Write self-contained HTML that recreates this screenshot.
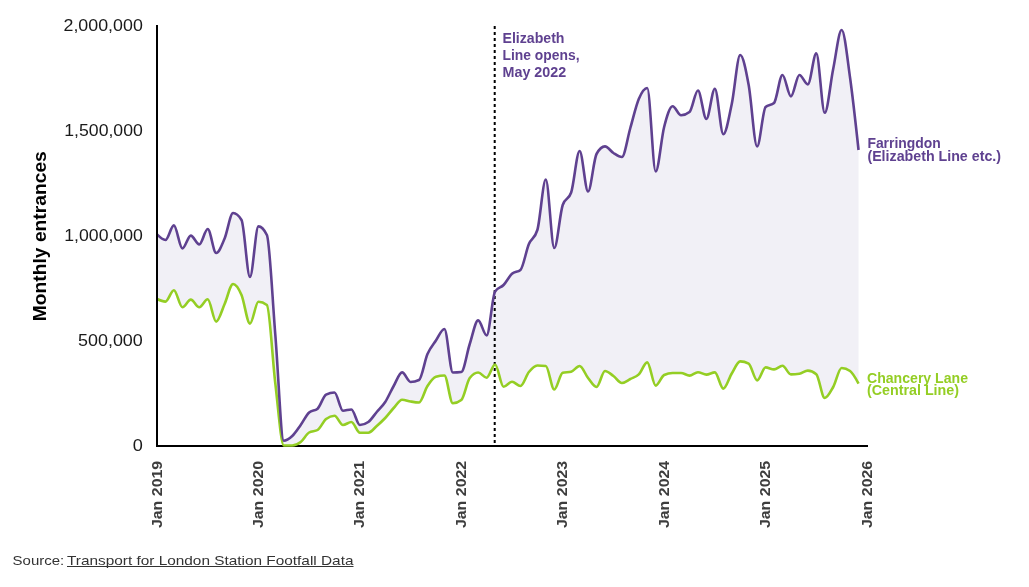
<!DOCTYPE html>
<html><head><meta charset="utf-8"><title>Monthly entrances</title>
<style>
html,body{margin:0;padding:0;background:#fff;}
body{width:1029px;height:587px;overflow:hidden;font-family:"Liberation Sans",sans-serif;}
svg{display:block;will-change:transform;transform:translateZ(0);font-family:"Liberation Sans",sans-serif;}
.yt{font-size:15.8px;fill:#1a1a1a;}
.xt{font-size:15.1px;font-weight:bold;fill:#3d3d3d;}
.ann{font-size:14px;font-weight:bold;fill:#5f4190;}
.lg{font-size:14px;font-weight:bold;fill:#94ce24;}
.ytitle{font-size:18px;font-weight:bold;fill:#000;}
.src{font-size:13.5px;fill:#333;}
</style></head><body>
<svg width="1029" height="587" viewBox="0 0 1029 587">
<path d="M157,234.4C159.82,237.2,162.63,240,165.45,240C168.27,240,171.09,225.4,173.9,225.4C176.72,225.4,179.54,248.4,182.36,248.4C185.17,248.4,187.99,235.6,190.81,235.6C193.63,235.6,196.44,244.4,199.26,244.4C202.08,244.4,204.9,229,207.71,229C210.53,229,213.35,253,216.17,253C218.98,253,221.8,245.17,224.62,238.5C227.44,231.83,230.25,213,233.07,213C235.89,213,238.71,215.33,241.52,220C244.34,224.67,247.16,277,249.98,277C252.79,277,255.61,226.4,258.43,226.4C261.25,226.4,264.06,229.27,266.88,235C269.7,240.73,272.52,300.72,275.33,335C278.15,369.28,280.97,440.7,283.79,440.7C286.6,440.7,289.42,438.62,292.24,436C295.06,433.38,297.87,428.92,300.69,425C303.51,421.08,306.33,415.03,309.14,412.5C311.96,409.97,314.78,411.23,317.6,408.7C320.41,406.17,323.23,396.17,326.05,394.7C328.87,393.23,331.68,392.5,334.5,392.5C337.32,392.5,340.13,410.7,342.95,410.7C345.77,410.7,348.59,409.5,351.4,409.5C354.22,409.5,357.04,425,359.86,425C362.67,425,365.49,424,368.31,422C371.13,420,373.94,415.33,376.76,412C379.58,408.67,382.4,406.33,385.21,402C388.03,397.67,390.85,390.93,393.67,386C396.48,381.07,399.3,372.4,402.12,372.4C404.94,372.4,407.75,382,410.57,382C413.39,382,416.21,381.33,419.02,380C421.84,378.67,424.66,360.58,427.48,354C430.29,347.42,433.11,344.67,435.93,340.5C438.75,336.33,441.56,329,444.38,329C447.2,329,450.02,372.5,452.83,372.5C455.65,372.5,458.47,372.33,461.29,372C464.1,371.67,466.92,352.6,469.74,344C472.56,335.4,475.37,320.4,478.19,320.4C481.01,320.4,483.83,335.4,486.64,335.4C489.46,335.4,492.28,295.83,495.1,291.5C497.91,287.17,500.73,287.97,503.55,285C506.37,282.03,509.18,276.17,512,273.7C514.82,271.23,517.63,272.47,520.45,270C523.27,267.53,526.09,250.67,528.9,244C531.72,237.33,534.54,239.33,537.36,230C540.17,220.67,542.99,179.5,545.81,179.5C548.63,179.5,551.44,248,554.26,248C557.08,248,559.9,213.33,562.71,205C565.53,196.67,568.35,200.83,571.17,192.5C573.98,184.17,576.8,151,579.62,151C582.44,151,585.25,191.5,588.07,191.5C590.89,191.5,593.71,159.07,596.52,154C599.34,148.93,602.16,146.4,604.98,146.4C607.79,146.4,610.61,151.23,613.43,153C616.25,154.77,619.06,157,621.88,157C624.7,157,627.52,137.67,630.33,128C633.15,118.33,635.97,105.67,638.79,99C641.6,92.33,644.42,88,647.24,88C650.06,88,652.87,171.5,655.69,171.5C658.51,171.5,661.33,137.87,664.14,127C666.96,116.13,669.78,106.3,672.6,106.3C675.41,106.3,678.23,115.3,681.05,115.3C683.87,115.3,686.68,114.2,689.5,112C692.32,109.8,695.13,90.5,697.95,90.5C700.77,90.5,703.59,119,706.4,119C709.22,119,712.04,88.7,714.86,88.7C717.67,88.7,720.49,134.2,723.31,134.2C726.13,134.2,728.94,117.2,731.76,104C734.58,90.8,737.4,55,740.21,55C743.03,55,745.85,69.75,748.67,85C751.48,100.25,754.3,146.5,757.12,146.5C759.94,146.5,762.75,109.67,765.57,107C768.39,104.33,771.21,105.67,774.02,103C776.84,100.33,779.66,75,782.48,75C785.29,75,788.11,96.4,790.93,96.4C793.75,96.4,796.56,75,799.38,75C802.2,75,805.02,84.4,807.83,84.4C810.65,84.4,813.47,53.4,816.29,53.4C819.1,53.4,821.92,112.8,824.74,112.8C827.56,112.8,830.37,82.8,833.19,69C836.01,55.2,838.83,30,841.64,30C844.46,30,847.28,58,850.1,78C852.91,98,855.73,124,858.55,150L858.55,383.6C855.73,378.3,852.91,373,850.1,371C847.28,369,844.46,368,841.64,368C838.83,368,836.01,382,833.19,387C830.37,392,827.56,398,824.74,398C821.92,398,819.1,376.6,816.29,374.2C813.47,371.8,810.65,370.6,807.83,370.6C805.02,370.6,802.2,373.4,799.38,373.8C796.56,374.2,793.75,374.4,790.93,374.4C788.11,374.4,785.29,365.8,782.48,365.8C779.66,365.8,776.84,369.4,774.02,369.4C771.21,369.4,768.39,367.4,765.57,367.4C762.75,367.4,759.94,380.4,757.12,380.4C754.3,380.4,751.48,365.07,748.67,363.6C745.85,362.13,743.03,361.4,740.21,361.4C737.4,361.4,734.58,368.97,731.76,373.5C728.94,378.03,726.13,388.6,723.31,388.6C720.49,388.6,717.67,372.4,714.86,372.4C712.04,372.4,709.22,374.6,706.4,374.6C703.59,374.6,700.77,372.2,697.95,372.2C695.13,372.2,692.32,375.6,689.5,375.6C686.68,375.6,683.87,373,681.05,373C678.23,373,675.41,373,672.6,373C669.78,373,666.96,373.67,664.14,375C661.33,376.33,658.51,385.6,655.69,385.6C652.87,385.6,650.06,362.4,647.24,362.4C644.42,362.4,641.6,371.63,638.79,374.4C635.97,377.17,633.15,377.57,630.33,379C627.52,380.43,624.7,383,621.88,383C619.06,383,616.25,378,613.43,376C610.61,374,607.79,371,604.98,371C602.16,371,599.34,387,596.52,387C593.71,387,590.89,381.5,588.07,378C585.25,374.5,582.44,366,579.62,366C576.8,366,573.98,371.03,571.17,371.7C568.35,372.37,565.53,372.03,562.71,372.7C559.9,373.37,557.08,389.5,554.26,389.5C551.44,389.5,548.63,366.33,545.81,366C542.99,365.67,540.17,365.5,537.36,365.5C534.54,365.5,531.72,368.58,528.9,372C526.09,375.42,523.27,386,520.45,386C517.63,386,514.82,381.7,512,381.7C509.18,381.7,506.37,386.7,503.55,386.7C500.73,386.7,497.91,364.5,495.1,364.5C492.28,364.5,489.46,377.7,486.64,377.7C483.83,377.7,481.01,372.5,478.19,372.5C475.37,372.5,472.56,374.33,469.74,378C466.92,381.67,464.1,397.8,461.29,400C458.47,402.2,455.65,403.3,452.83,403.3C450.02,403.3,447.2,375.5,444.38,375.5C441.56,375.5,438.75,375.93,435.93,376.8C433.11,377.67,430.29,381.72,427.48,386C424.66,390.28,421.84,402.5,419.02,402.5C416.21,402.5,413.39,401.97,410.57,401.5C407.75,401.03,404.94,399.7,402.12,399.7C399.3,399.7,396.48,404.95,393.67,408C390.85,411.05,388.03,415,385.21,418C382.4,421,379.58,423.55,376.76,426C373.94,428.45,371.13,432.7,368.31,432.7C365.49,432.7,362.67,432.7,359.86,432.7C357.04,432.7,354.22,422,351.4,422C348.59,422,345.77,425,342.95,425C340.13,425,337.32,415.7,334.5,415.7C331.68,415.7,328.87,416.8,326.05,419C323.23,421.2,320.41,428.33,317.6,430C314.78,431.67,311.96,430.83,309.14,432.5C306.33,434.17,303.51,439.83,300.69,442C297.87,444.17,295.06,445.5,292.24,445.5C289.42,445.5,286.6,445.5,283.79,445.5C280.97,445.5,278.15,406.92,275.33,383.5C272.52,360.08,269.7,307.13,266.88,305C264.06,302.87,261.25,301.8,258.43,301.8C255.61,301.8,252.79,323.6,249.98,323.6C247.16,323.6,244.34,301.6,241.52,295C238.71,288.4,235.89,284,233.07,284C230.25,284,227.44,297.73,224.62,304C221.8,310.27,218.98,321.6,216.17,321.6C213.35,321.6,210.53,299.3,207.71,299.3C204.9,299.3,202.08,307.2,199.26,307.2C196.44,307.2,193.63,299.6,190.81,299.6C187.99,299.6,185.17,307.2,182.36,307.2C179.54,307.2,176.72,290.2,173.9,290.2C171.09,290.2,168.27,301.6,165.45,301.6C162.63,301.6,159.82,300.3,157,299Z" fill="#f1f0f6"/>
<line x1="156" y1="446" x2="868" y2="446" stroke="#000" stroke-width="2"/>
<line x1="494.7" y1="26.1" x2="494.7" y2="444" stroke="#000" stroke-width="2" stroke-dasharray="3 3"/>
<path d="M157,299C159.82,300.3,162.63,301.6,165.45,301.6C168.27,301.6,171.09,290.2,173.9,290.2C176.72,290.2,179.54,307.2,182.36,307.2C185.17,307.2,187.99,299.6,190.81,299.6C193.63,299.6,196.44,307.2,199.26,307.2C202.08,307.2,204.9,299.3,207.71,299.3C210.53,299.3,213.35,321.6,216.17,321.6C218.98,321.6,221.8,310.27,224.62,304C227.44,297.73,230.25,284,233.07,284C235.89,284,238.71,288.4,241.52,295C244.34,301.6,247.16,323.6,249.98,323.6C252.79,323.6,255.61,301.8,258.43,301.8C261.25,301.8,264.06,302.87,266.88,305C269.7,307.13,272.52,360.08,275.33,383.5C278.15,406.92,280.97,445.5,283.79,445.5C286.6,445.5,289.42,445.5,292.24,445.5C295.06,445.5,297.87,444.17,300.69,442C303.51,439.83,306.33,434.17,309.14,432.5C311.96,430.83,314.78,431.67,317.6,430C320.41,428.33,323.23,421.2,326.05,419C328.87,416.8,331.68,415.7,334.5,415.7C337.32,415.7,340.13,425,342.95,425C345.77,425,348.59,422,351.4,422C354.22,422,357.04,432.7,359.86,432.7C362.67,432.7,365.49,432.7,368.31,432.7C371.13,432.7,373.94,428.45,376.76,426C379.58,423.55,382.4,421,385.21,418C388.03,415,390.85,411.05,393.67,408C396.48,404.95,399.3,399.7,402.12,399.7C404.94,399.7,407.75,401.03,410.57,401.5C413.39,401.97,416.21,402.5,419.02,402.5C421.84,402.5,424.66,390.28,427.48,386C430.29,381.72,433.11,377.67,435.93,376.8C438.75,375.93,441.56,375.5,444.38,375.5C447.2,375.5,450.02,403.3,452.83,403.3C455.65,403.3,458.47,402.2,461.29,400C464.1,397.8,466.92,381.67,469.74,378C472.56,374.33,475.37,372.5,478.19,372.5C481.01,372.5,483.83,377.7,486.64,377.7C489.46,377.7,492.28,364.5,495.1,364.5C497.91,364.5,500.73,386.7,503.55,386.7C506.37,386.7,509.18,381.7,512,381.7C514.82,381.7,517.63,386,520.45,386C523.27,386,526.09,375.42,528.9,372C531.72,368.58,534.54,365.5,537.36,365.5C540.17,365.5,542.99,365.67,545.81,366C548.63,366.33,551.44,389.5,554.26,389.5C557.08,389.5,559.9,373.37,562.71,372.7C565.53,372.03,568.35,372.37,571.17,371.7C573.98,371.03,576.8,366,579.62,366C582.44,366,585.25,374.5,588.07,378C590.89,381.5,593.71,387,596.52,387C599.34,387,602.16,371,604.98,371C607.79,371,610.61,374,613.43,376C616.25,378,619.06,383,621.88,383C624.7,383,627.52,380.43,630.33,379C633.15,377.57,635.97,377.17,638.79,374.4C641.6,371.63,644.42,362.4,647.24,362.4C650.06,362.4,652.87,385.6,655.69,385.6C658.51,385.6,661.33,376.33,664.14,375C666.96,373.67,669.78,373,672.6,373C675.41,373,678.23,373,681.05,373C683.87,373,686.68,375.6,689.5,375.6C692.32,375.6,695.13,372.2,697.95,372.2C700.77,372.2,703.59,374.6,706.4,374.6C709.22,374.6,712.04,372.4,714.86,372.4C717.67,372.4,720.49,388.6,723.31,388.6C726.13,388.6,728.94,378.03,731.76,373.5C734.58,368.97,737.4,361.4,740.21,361.4C743.03,361.4,745.85,362.13,748.67,363.6C751.48,365.07,754.3,380.4,757.12,380.4C759.94,380.4,762.75,367.4,765.57,367.4C768.39,367.4,771.21,369.4,774.02,369.4C776.84,369.4,779.66,365.8,782.48,365.8C785.29,365.8,788.11,374.4,790.93,374.4C793.75,374.4,796.56,374.2,799.38,373.8C802.2,373.4,805.02,370.6,807.83,370.6C810.65,370.6,813.47,371.8,816.29,374.2C819.1,376.6,821.92,398,824.74,398C827.56,398,830.37,392,833.19,387C836.01,382,838.83,368,841.64,368C844.46,368,847.28,369,850.1,371C852.91,373,855.73,378.3,858.55,383.6" fill="none" stroke="#94ce24" stroke-width="2.6" stroke-linejoin="round"/>
<path d="M157,234.4C159.82,237.2,162.63,240,165.45,240C168.27,240,171.09,225.4,173.9,225.4C176.72,225.4,179.54,248.4,182.36,248.4C185.17,248.4,187.99,235.6,190.81,235.6C193.63,235.6,196.44,244.4,199.26,244.4C202.08,244.4,204.9,229,207.71,229C210.53,229,213.35,253,216.17,253C218.98,253,221.8,245.17,224.62,238.5C227.44,231.83,230.25,213,233.07,213C235.89,213,238.71,215.33,241.52,220C244.34,224.67,247.16,277,249.98,277C252.79,277,255.61,226.4,258.43,226.4C261.25,226.4,264.06,229.27,266.88,235C269.7,240.73,272.52,300.72,275.33,335C278.15,369.28,280.97,440.7,283.79,440.7C286.6,440.7,289.42,438.62,292.24,436C295.06,433.38,297.87,428.92,300.69,425C303.51,421.08,306.33,415.03,309.14,412.5C311.96,409.97,314.78,411.23,317.6,408.7C320.41,406.17,323.23,396.17,326.05,394.7C328.87,393.23,331.68,392.5,334.5,392.5C337.32,392.5,340.13,410.7,342.95,410.7C345.77,410.7,348.59,409.5,351.4,409.5C354.22,409.5,357.04,425,359.86,425C362.67,425,365.49,424,368.31,422C371.13,420,373.94,415.33,376.76,412C379.58,408.67,382.4,406.33,385.21,402C388.03,397.67,390.85,390.93,393.67,386C396.48,381.07,399.3,372.4,402.12,372.4C404.94,372.4,407.75,382,410.57,382C413.39,382,416.21,381.33,419.02,380C421.84,378.67,424.66,360.58,427.48,354C430.29,347.42,433.11,344.67,435.93,340.5C438.75,336.33,441.56,329,444.38,329C447.2,329,450.02,372.5,452.83,372.5C455.65,372.5,458.47,372.33,461.29,372C464.1,371.67,466.92,352.6,469.74,344C472.56,335.4,475.37,320.4,478.19,320.4C481.01,320.4,483.83,335.4,486.64,335.4C489.46,335.4,492.28,295.83,495.1,291.5C497.91,287.17,500.73,287.97,503.55,285C506.37,282.03,509.18,276.17,512,273.7C514.82,271.23,517.63,272.47,520.45,270C523.27,267.53,526.09,250.67,528.9,244C531.72,237.33,534.54,239.33,537.36,230C540.17,220.67,542.99,179.5,545.81,179.5C548.63,179.5,551.44,248,554.26,248C557.08,248,559.9,213.33,562.71,205C565.53,196.67,568.35,200.83,571.17,192.5C573.98,184.17,576.8,151,579.62,151C582.44,151,585.25,191.5,588.07,191.5C590.89,191.5,593.71,159.07,596.52,154C599.34,148.93,602.16,146.4,604.98,146.4C607.79,146.4,610.61,151.23,613.43,153C616.25,154.77,619.06,157,621.88,157C624.7,157,627.52,137.67,630.33,128C633.15,118.33,635.97,105.67,638.79,99C641.6,92.33,644.42,88,647.24,88C650.06,88,652.87,171.5,655.69,171.5C658.51,171.5,661.33,137.87,664.14,127C666.96,116.13,669.78,106.3,672.6,106.3C675.41,106.3,678.23,115.3,681.05,115.3C683.87,115.3,686.68,114.2,689.5,112C692.32,109.8,695.13,90.5,697.95,90.5C700.77,90.5,703.59,119,706.4,119C709.22,119,712.04,88.7,714.86,88.7C717.67,88.7,720.49,134.2,723.31,134.2C726.13,134.2,728.94,117.2,731.76,104C734.58,90.8,737.4,55,740.21,55C743.03,55,745.85,69.75,748.67,85C751.48,100.25,754.3,146.5,757.12,146.5C759.94,146.5,762.75,109.67,765.57,107C768.39,104.33,771.21,105.67,774.02,103C776.84,100.33,779.66,75,782.48,75C785.29,75,788.11,96.4,790.93,96.4C793.75,96.4,796.56,75,799.38,75C802.2,75,805.02,84.4,807.83,84.4C810.65,84.4,813.47,53.4,816.29,53.4C819.1,53.4,821.92,112.8,824.74,112.8C827.56,112.8,830.37,82.8,833.19,69C836.01,55.2,838.83,30,841.64,30C844.46,30,847.28,58,850.1,78C852.91,98,855.73,124,858.55,150" fill="none" stroke="#5f4190" stroke-width="2.6" stroke-linejoin="round"/>
<line x1="157" y1="25" x2="157" y2="447" stroke="#000" stroke-width="2"/>
<text x="132.7" y="451" class="yt" textLength="10.1" lengthAdjust="spacingAndGlyphs">0</text>
<text x="78" y="345.88" class="yt" textLength="64.8" lengthAdjust="spacingAndGlyphs">500,000</text>
<text x="64.3" y="240.75" class="yt" textLength="78.5" lengthAdjust="spacingAndGlyphs">1,000,000</text>
<text x="64.3" y="135.62" class="yt" textLength="78.5" lengthAdjust="spacingAndGlyphs">1,500,000</text>
<text x="63.5" y="30.5" class="yt" textLength="79.3" lengthAdjust="spacingAndGlyphs">2,000,000</text>

<text transform="translate(161.6,528.1) rotate(-90)" class="xt" textLength="67.3" lengthAdjust="spacingAndGlyphs">Jan 2019</text>
<text transform="translate(263.03,528.1) rotate(-90)" class="xt" textLength="67.3" lengthAdjust="spacingAndGlyphs">Jan 2020</text>
<text transform="translate(364.46,528.1) rotate(-90)" class="xt" textLength="67.3" lengthAdjust="spacingAndGlyphs">Jan 2021</text>
<text transform="translate(465.89,528.1) rotate(-90)" class="xt" textLength="67.3" lengthAdjust="spacingAndGlyphs">Jan 2022</text>
<text transform="translate(567.31,528.1) rotate(-90)" class="xt" textLength="67.3" lengthAdjust="spacingAndGlyphs">Jan 2023</text>
<text transform="translate(668.74,528.1) rotate(-90)" class="xt" textLength="67.3" lengthAdjust="spacingAndGlyphs">Jan 2024</text>
<text transform="translate(770.17,528.1) rotate(-90)" class="xt" textLength="67.3" lengthAdjust="spacingAndGlyphs">Jan 2025</text>
<text transform="translate(871.6,528.1) rotate(-90)" class="xt" textLength="67.3" lengthAdjust="spacingAndGlyphs">Jan 2026</text>

<text transform="translate(46.3,321.2) rotate(-90)" class="ytitle" textLength="170" lengthAdjust="spacingAndGlyphs">Monthly entrances</text>
<text class="ann" x="502.5" y="42.6" textLength="62" lengthAdjust="spacingAndGlyphs">Elizabeth</text>
<text class="ann" x="502.5" y="59.6" textLength="77" lengthAdjust="spacingAndGlyphs">Line opens,</text>
<text class="ann" x="502.5" y="76.6" textLength="63.7" lengthAdjust="spacingAndGlyphs">May 2022</text>
<text class="ann" x="867.4" y="147.8" textLength="73.4" lengthAdjust="spacingAndGlyphs">Farringdon</text>
<text class="ann" x="867.4" y="160.9" textLength="133.6" lengthAdjust="spacingAndGlyphs">(Elizabeth Line etc.)</text>
<text class="lg" x="867" y="383.3" textLength="101" lengthAdjust="spacingAndGlyphs">Chancery Lane</text>
<text class="lg" x="867" y="394.8" textLength="92" lengthAdjust="spacingAndGlyphs">(Central Line)</text>
<text class="src" x="12.6" y="564.9" textLength="51.6" lengthAdjust="spacingAndGlyphs">Source:</text>
<text class="src" x="67" y="564.9" textLength="286.5" lengthAdjust="spacingAndGlyphs">Transport for London Station Footfall Data</text>
<line x1="67" y1="566.5" x2="353.5" y2="566.5" stroke="#333" stroke-width="1"/>
</svg>
</body></html>
